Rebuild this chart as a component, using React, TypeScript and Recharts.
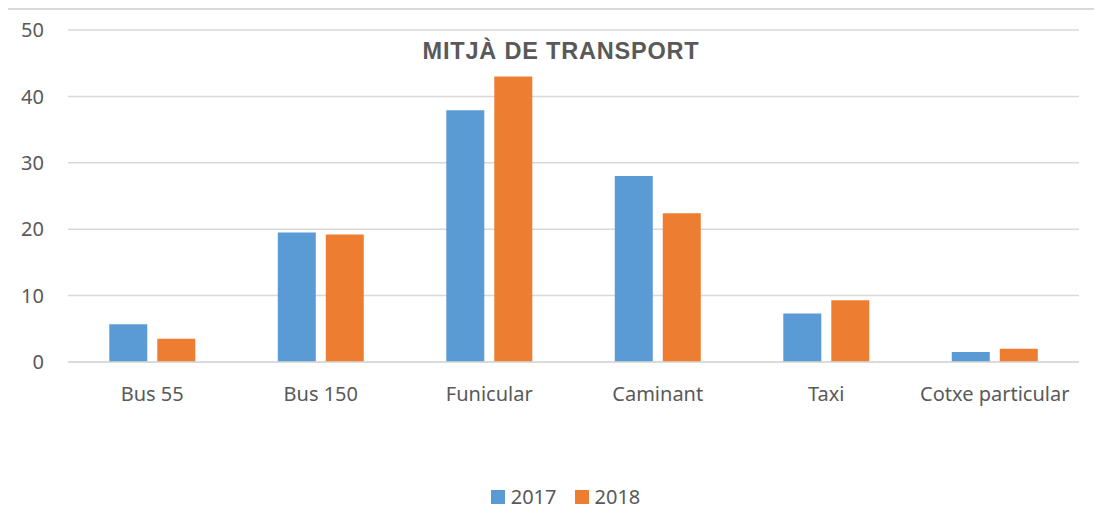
import { BarChart, Bar, XAxis, YAxis, CartesianGrid, Legend } from 'recharts'

const categories = ['Bus 55', 'Bus 150', 'Funicular', 'Caminant', 'Taxi', 'Cotxe particular']
const values2017 = [5.7, 19.5, 37.9, 28.0, 7.3, 1.5]
const values2018 = [3.5, 19.2, 43.0, 22.4, 9.3, 2.0]
const yTicks = [0, 10, 20, 30, 40, 50]

const BLUE = '#5B9BD5'
const ORANGE = '#ED7D31'
const TEXT = '#595959'
const GRID = '#d9d9d9'
const FONT = '"Noto Sans", "Open Sans", sans-serif'

const data = categories.map((name, i) => ({
  name,
  y2017: values2017[i],
  y2018: values2018[i],
}))

function LegendContent() {
  const items = [
    { label: '2017', color: BLUE },
    { label: '2018', color: ORANGE },
  ]
  return (
    <div style={{ height: 24, display: 'flex', justifyContent: 'center', alignItems: 'center', paddingLeft: 44 }}>
      {items.map((it, i) => (
        <div key={it.label} style={{ display: 'flex', alignItems: 'center', marginLeft: i ? 18 : 0 }}>
          <span style={{ width: 14, height: 14, background: it.color, display: 'inline-block', marginRight: 6 }} />
          <span style={{ fontFamily: FONT, fontSize: 20, color: TEXT, lineHeight: '24px' }}>{it.label}</span>
        </div>
      ))}
    </div>
  )
}

export default function App() {
  return (
    <div
      style={{
        position: 'relative',
        width: 1093,
        height: 511,
        borderLeft: `2px solid ${GRID}`,
        borderTop: `2px solid ${GRID}`,
        marginLeft: -2,
        marginTop: 0,
        background: '#fff',
        overflow: 'hidden',
      }}
    >
      <div
        style={{
          position: 'absolute',
          left: 0,
          width: 1106,
          top: 27,
          textAlign: 'center',
          fontFamily: '"Liberation Sans", Arial, sans-serif',
          fontWeight: 700,
          fontSize: 23.5,
          letterSpacing: 0.8,
          color: TEXT,
          lineHeight: '28px',
          zIndex: 2,
        }}
      >
        MITJÀ DE TRANSPORT
      </div>
      <BarChart
        width={1093}
        height={511}
        data={data}
        margin={{ top: 20, right: 22, bottom: 12, left: 0 }}
        barCategoryGap="24.5%"
        barGap={10}
      >
        <CartesianGrid vertical={false} stroke={GRID} strokeWidth={1.5} />
        <XAxis
          dataKey="name"
          height={123}
          tickLine={false}
          tickSize={0}
          tickMargin={25}
          axisLine={{ stroke: GRID, strokeWidth: 1.5 }}
          tick={{ fill: TEXT, fontSize: 20, fontFamily: FONT }}
          interval={0}
        />
        <YAxis
          width={60}
          domain={[0, 50]}
          ticks={yTicks}
          tickLine={false}
          tickSize={0}
          tickMargin={24}
          axisLine={false}
          tick={{ fill: TEXT, fontSize: 20, fontFamily: FONT }}
        />
        <Legend verticalAlign="bottom" content={() => <LegendContent />} />
        <Bar dataKey="y2017" name="2017" fill={BLUE} isAnimationActive={false} />
        <Bar dataKey="y2018" name="2018" fill={ORANGE} isAnimationActive={false} />
      </BarChart>
    </div>
  )
}
